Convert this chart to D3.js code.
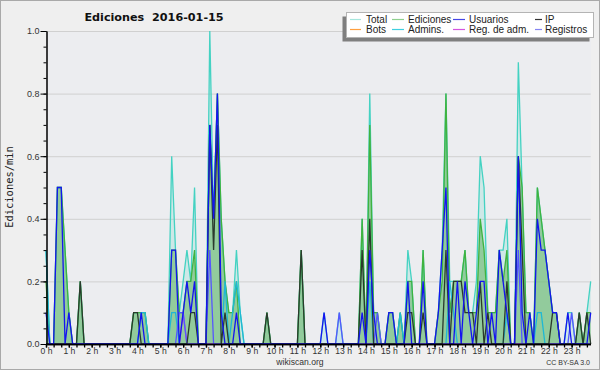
<!DOCTYPE html>
<html><head><meta charset="utf-8">
<script src="https://cdn.jsdelivr.net/npm/d3@7"></script>
<style>html,body{margin:0;padding:0;background:#fff;} svg{display:block}</style>
</head><body><svg id="c" width="600" height="370"></svg>
<script>
// ---- data: one value per 10-minute bin (144 bins), edits per minute ----
const hourLabels = d3.range(24).map(h => h + " h");
const yTicks = [0, 0.2, 0.4, 0.6, 0.8, 1.0];
const seriesNames = ["Total", "Ediciones", "Usuarios", "IP", "Bots", "Admins.", "Reg. de adm.", "Registros"];

const total = [
  0.3,0,0,0.5,0.5,0.3,   0.1,0,0,0.2,0,0,   0,0,0,0,0,0,   0,0,0,0,0,0.1,
  0.1,0.1,0.1,0,0,0,     0,0,0,0.6,0.3,0.1, 0.2,0.3,0.2,0.5,0,0, 0,1.0,0.4,0.8,0.4,0.2,
  0.1,0.1,0.3,0.1,0,0,   0,0,0,0,0.1,0,     0,0,0,0,0,0,   0,0.3,0,0,0,0,
  0,0.1,0,0,0,0.1,       0,0,0,0,0,0.4,     0,0.8,0.1,0.1,0,0, 0.1,0.1,0,0.1,0,0.3,
  0.2,0,0,0.3,0,0,       0,0.1,0.3,0.8,0.2,0.2, 0.2,0.2,0.3,0.1,0.1,0.2, 0.6,0.5,0.1,0.1,0.1,0.3,
  0.3,0.4,0,0,0.9,0.5,   0.1,0.1,0,0.5,0.4,0.3, 0.2,0.1,0.1,0,0,0.1, 0.1,0,0.1,0,0.1,0.2
];
const ediciones = [
  0.2,0,0,0.5,0.5,0.3,   0.1,0,0,0.2,0,0,   0,0,0,0,0,0,   0,0,0,0,0,0.1,
  0.1,0.1,0.1,0,0,0,     0,0,0,0.3,0.3,0.1, 0.1,0.2,0.2,0.3,0,0, 0,0.7,0.4,0.8,0.4,0.2,
  0.1,0.1,0.2,0,0,0,     0,0,0,0,0.1,0,     0,0,0,0,0,0,   0,0.3,0,0,0,0,
  0,0,0,0,0,0,           0,0,0,0,0,0.4,     0,0.7,0.1,0.1,0,0, 0.1,0.1,0,0.1,0,0.2,
  0.2,0,0,0.3,0,0,       0,0.1,0.2,0.8,0.1,0.2, 0.2,0.2,0.3,0.1,0.1,0.1, 0.4,0.3,0.1,0.1,0.1,0.3,
  0.2,0.3,0,0,0.6,0.5,   0.1,0.1,0,0.5,0.4,0.3, 0.2,0.1,0.1,0,0,0, 0,0,0.1,0,0.1,0.1
];
const usuarios = [
  0.1,0,0,0.5,0.5,0,     0.1,0,0,0,0,0,     0,0,0,0,0,0,   0,0,0,0,0,0,
  0,0.1,0,0,0,0,         0,0,0,0.3,0.3,0,   0.1,0.2,0.1,0.2,0,0, 0,0.7,0.4,0.8,0.1,0,
  0,0,0.1,0,0,0,         0,0,0,0,0,0,       0,0,0,0,0,0,   0,0,0,0,0,0,
  0,0.1,0,0,0,0,         0,0,0,0,0,0.1,     0,0.3,0.1,0,0,0, 0.1,0.1,0,0,0,0.2,
  0,0,0,0.2,0,0,         0,0.1,0.3,0.5,0,0, 0.2,0,0.2,0.1,0,0.1, 0.2,0.2,0,0.1,0,0.3,
  0.2,0.1,0,0,0.6,0.1,   0,0.1,0,0.4,0.3,0.3, 0.2,0.1,0.1,0,0,0.1, 0,0,0,0,0,0.1
];
const ip = [
  0,0,0,0,0,0,           0,0,0,0.2,0,0,     0,0,0,0,0,0,   0,0,0,0,0,0.1,
  0.1,0,0,0,0,0,         0,0,0,0,0,0,       0,0,0.1,0.1,0,0, 0,0.7,0.3,0.7,0,0.1,
  0,0,0,0,0,0,           0,0,0,0,0.1,0,     0,0,0,0,0,0,   0,0.3,0,0,0,0,
  0,0,0,0,0,0,           0,0,0,0,0,0.3,     0,0.4,0,0,0,0, 0,0,0,0,0,0.1,
  0.1,0,0,0.1,0,0,       0,0,0,0.3,0,0.2,   0.2,0.2,0.1,0.1,0.1,0, 0.2,0,0.1,0,0,0,
  0,0.2,0,0,0.6,0.3,     0,0,0,0,0,0,       0,0.1,0.1,0,0,0, 0,0,0.1,0,0.1,0
];
const bots = new Array(144).fill(0);
const admins = [
  0.3,0,0,0,0,0,         0,0,0,0,0,0,       0,0,0,0,0,0,   0,0,0,0,0,0,
  0,0.1,0.1,0,0,0,       0,0,0,0.1,0.1,0,   0,0,0,0,0,0,   0,0,0,0,0,0.2,
  0,0.1,0.2,0.1,0,0,     0,0,0,0,0,0,       0,0,0,0,0,0,   0,0,0,0,0,0,
  0,0,0,0,0,0,           0,0,0,0,0,0,       0,0.2,0,0,0,0, 0,0,0,0.1,0,0,
  0,0,0,0,0,0,           0,0,0,0,0.2,0.1,   0,0,0,0,0,0,   0,0,0,0,0,0,
  0,0.1,0,0,0,0,         0,0,0,0.1,0.1,0,   0,0,0,0,0,0,   0,0,0,0,0,0
];
const regAdm = [
  0,0,0,0,0,0, 0,0,0,0,0,0, 0,0,0,0,0,0, 0,0,0,0,0,0,
  0,0,0,0,0,0, 0,0,0,0,0,0, 0.1,0,0,0,0,0, 0,0,0,0,0,0,
  0,0,0,0,0,0, 0,0,0,0,0,0, 0,0,0,0,0,0, 0,0,0,0,0,0,
  0,0,0,0,0,0, 0,0,0,0,0,0, 0,0,0,0,0,0, 0,0,0,0,0,0,
  0,0,0,0,0,0, 0,0,0,0,0,0, 0,0,0,0,0,0, 0,0,0,0,0,0,
  0,0,0,0,0,0, 0,0,0,0,0,0, 0,0,0,0,0,0, 0,0,0,0,0,0
];
const registros = [
  0,0,0,0,0,0, 0,0,0,0,0,0, 0,0,0,0,0,0, 0,0,0,0,0,0,
  0,0,0,0,0,0, 0,0,0,0,0,0.1, 0.1,0,0,0,0,0, 0,0.3,0,0,0,0,
  0,0,0,0,0,0, 0,0,0,0,0,0, 0,0,0,0,0,0, 0,0,0,0,0,0,
  0,0,0,0,0,0.1, 0,0,0,0,0,0, 0,0,0,0.1,0,0, 0,0,0,0,0,0,
  0,0,0,0,0,0, 0,0,0,0,0,0, 0,0,0,0,0,0, 0,0,0,0,0,0,
  0,0,0,0,0.3,0, 0,0,0,0,0,0, 0,0,0,0,0,0, 0.1,0,0,0,0,0
];

// ---- drawing ----
const W = 600, H = 370;
const svg = d3.select("#c");
svg.append("rect").attr("x", 0.5).attr("y", 0.5).attr("width", W - 1).attr("height", H - 1)
  .attr("fill", "#efefef").attr("stroke", "#a9a9a9");

const x = d3.scaleLinear().domain([0, 143]).range([46, 590.7]);
const y = d3.scaleLinear().domain([0, 1]).range([344, 31]);

svg.append("rect").attr("x", 46).attr("y", 31).attr("width", 545).attr("height", 313).attr("fill", "#ecedf0");

// gridlines
svg.append("g").selectAll("line").data(yTicks.filter(d => d > 0)).join("line")
  .attr("x1", 46).attr("x2", 590.7).attr("y1", d => y(d) + 0.5).attr("y2", d => y(d) + 0.5)
  .attr("stroke", "#d0d0d0").attr("stroke-width", 1);

const area = d3.area().x((d, i) => x(i)).y0(y(0)).y1(d => y(d));
const line = d3.line().x((d, i) => x(i)).y(d => y(d));

svg.append("path").datum(total).attr("d", area).attr("fill", "rgba(100,215,200,0.22)");
svg.append("path").datum(ediciones).attr("d", area).attr("fill", "rgba(110,185,110,0.62)");

const lineSeries = [
  {v: total, c: "#44d2c2", w: 1.3},
  {v: ediciones, c: "#3fb33f", w: 1.3},
  {v: bots, c: "#ff9933", w: 1.2},
  {v: admins, c: "#1fb8d4", w: 1.3},
  {v: regAdm, c: "#c040d8", w: 1.3},
  {v: registros, c: "#5656ff", w: 1.3},
  {v: ip, c: "#2a3a2c", w: 1.3},
  {v: usuarios, c: "#1414f0", w: 1.3}
];
svg.append("g").selectAll("path").data(lineSeries).join("path")
  .attr("d", d => line(d.v)).attr("fill", "none")
  .attr("stroke", d => d.c).attr("stroke-width", d => d.w).attr("stroke-linejoin", "miter");

// axes
const fontTick = "Liberation Sans, Arial, sans-serif";
const yMinor = svg.append("g").attr("transform", "translate(46.5,0)")
  .call(d3.axisLeft(y).tickValues(d3.range(0, 1.0001, 0.05)).tickSize(3).tickSizeOuter(0).tickFormat(""));
const yAxis = svg.append("g").attr("transform", "translate(46.5,0)")
  .call(d3.axisLeft(y).tickValues(yTicks).tickSize(6).tickSizeOuter(0).tickPadding(1).tickFormat(d3.format(".1f")));
[yMinor, yAxis].forEach(g => { g.selectAll("line,path").attr("stroke", "#000"); });
yAxis.selectAll("text").attr("font-family", fontTick).attr("font-size", 9).attr("fill", "#333");

const xMinor = svg.append("g").attr("transform", "translate(0,344.5)")
  .call(d3.axisBottom(x).tickValues(d3.range(0, 144, 2)).tickSize(3).tickSizeOuter(0).tickFormat(""));
const xAxis = svg.append("g").attr("transform", "translate(0,344.5)")
  .call(d3.axisBottom(x).tickValues(d3.range(0, 144, 6)).tickSize(3).tickSizeOuter(0).tickPadding(0)
    .tickFormat(i => hourLabels[i / 6]));
xMinor.select(".domain").attr("d", `M46,0H${W - 9}`);
xAxis.select(".domain").attr("d", `M46,0H${W - 9}`);
[xMinor, xAxis].forEach(g => { g.selectAll("line,path").attr("stroke", "#000").attr("stroke-width", 1.3); });
xAxis.selectAll("text").attr("font-family", fontTick).attr("font-size", 8.6).attr("fill", "#333");

// title
svg.append("text").attr("x", 154).attr("y", 21).attr("text-anchor", "middle")
  .attr("font-family", "DejaVu Sans, sans-serif").attr("font-weight", "bold").attr("font-size", 11.2)
  .attr("fill", "#111").style("white-space", "pre").text("Ediciones  2016-01-15");

// y label
svg.append("text").attr("transform", "translate(13,187) rotate(-90)").attr("text-anchor", "middle")
  .attr("font-family", "DejaVu Sans Mono, monospace").attr("font-size", 10.4).attr("fill", "#222")
  .text("Ediciones/min");

// footer
svg.append("text").attr("x", 300).attr("y", 365).attr("text-anchor", "middle")
  .attr("font-family", fontTick).attr("font-size", 8.6).attr("fill", "#333").text("wikiscan.org");
svg.append("text").attr("x", 590).attr("y", 365).attr("text-anchor", "end")
  .attr("font-family", fontTick).attr("font-size", 7).attr("fill", "#333").text("CC BY-SA 3.0");

// legend
const legColors = ["#a6e6dd", "#8fd08f", "#4646e6", "#333333", "#ffa040", "#3fcfe0", "#d455e0", "#8484f2"];
const legCols = [{lx: 350, ll: 11, tx: 366}, {lx: 392, ll: 12, tx: 408}, {lx: 453, ll: 12, tx: 469}, {lx: 535, ll: 7, tx: 545}];
const leg = svg.append("g");
leg.append("rect").attr("x", 342.5).attr("y", 16.5).attr("width", 247).attr("height", 25).attr("fill", "#7f7f7f");
leg.append("rect").attr("x", 346.5).attr("y", 12.5).attr("width", 247).attr("height", 25).attr("fill", "#fff").attr("stroke", "#b4b4b4");
const items = seriesNames.map((n, k) => ({n, c: legColors[k], col: legCols[k % 4], row: Math.floor(k / 4)}));
leg.selectAll("line.l").data(items).join("line").attr("class", "l")
  .attr("x1", d => d.col.lx).attr("x2", d => d.col.lx + d.col.ll)
  .attr("y1", d => 19.5 + d.row * 10).attr("y2", d => 19.5 + d.row * 10)
  .attr("stroke", d => d.c).attr("stroke-width", 1.2);
leg.selectAll("text").data(items).join("text")
  .attr("x", d => d.col.tx).attr("y", d => 22.8 + d.row * 10)
  .attr("font-family", fontTick).attr("font-size", 10).attr("fill", "#222").text(d => d.n);
</script>
</body></html>
